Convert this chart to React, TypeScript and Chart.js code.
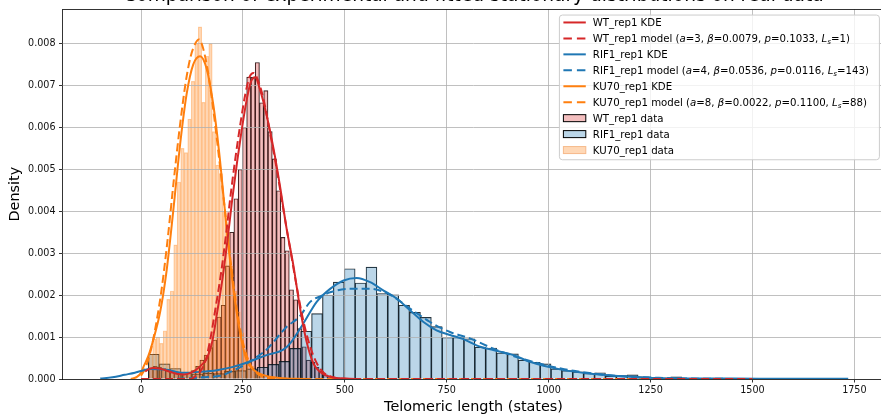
import React, { useEffect, useRef } from 'react';
import { Chart, registerables } from 'chart.js';

Chart.register(...registerables);

// ---------- text ----------
const TITLE = 'Comparison of experimental and fitted stationary distributions on real data';
const X_LABEL = 'Telomeric length (states)';
const Y_LABEL = 'Density';

// ---------- axes ----------
const X_MIN = -192.6;
const X_MAX = 1824;
const Y_MAX = 0.00882;
const X_TICKS = [0, 250, 500, 750, 1000, 1250, 1500, 1750];
const Y_TICKS = [0, 0.001, 0.002, 0.003, 0.004, 0.005, 0.006, 0.007, 0.008];

// ---------- series meta ----------
const SERIES_NAMES = ['WT_rep1', 'RIF1_rep1', 'KU70_rep1'];
const COLORS = ['#d62728', '#1f77b4', '#ff7f0e'];
const HIST_FILL = ['rgba(214,39,40,0.3)', 'rgba(31,119,180,0.3)', 'rgba(255,127,14,0.3)'];
const HIST_EDGE = ['rgba(0,0,0,0.85)', 'rgba(0,0,0,0.85)', 'rgba(255,127,14,0.3)'];
const MODEL_A = ['3', '4', '8'];
const MODEL_BETA = ['0.0079', '0.0536', '0.0022'];
const MODEL_P = ['0.1033', '0.0116', '0.1100'];
const MODEL_LS = ['1', '143', '88'];

// ---------- histograms (density per bin) ----------
const WT_BIN_START = 18.9;
const WT_BIN_WIDTH = 10.45;
const WT_HIST = [
  0.00025, 0.0003, 0.00028, 0.00025, 0.00022, 0.00018, 0.00015, 0.00012, 0.00012, 0.00015,
  0.0002, 0.0003, 0.00045, 0.00057, 0.00075, 0.00093, 0.00148, 0.00176, 0.0027, 0.0035,
  0.0043, 0.005, 0.006, 0.0072, 0.0072, 0.00755, 0.00659, 0.00688, 0.0059, 0.00525,
  0.00449, 0.00338, 0.00306, 0.00213, 0.00189, 0.0012, 0.00077, 0.00045, 0.0004, 0.00028,
  0.00018, 0.0001, 0.00006, 0.00004, 0.00003,
];

const RIF1_BIN_START = 18;
const RIF1_BIN_WIDTH = 26.7;
const RIF1_HIST = [
  0.00059, 0.00036, 0.00025, 0.00016, 0.00012, 0.00014, 0.00013, 0.00018, 0.0002, 0.00024,
  0.00028, 0.00035, 0.00042, 0.00073, 0.00114, 0.00156, 0.002, 0.00231, 0.00263, 0.00229,
  0.00267, 0.00204, 0.00201, 0.00176, 0.00159, 0.00147, 0.00125, 0.00099, 0.00099, 0.00096,
  0.00076, 0.00074, 0.00062, 0.0006, 0.00045, 0.0004, 0.00036, 0.00024, 0.0002, 0.00017,
  0.000135, 0.00015, 0.00007, 0.00008, 0.0001, 0.00005, 0.00004, 0.00003, 0.00005, 0.00001,
  0.00001, 0.000005, 0, 0.000005, 0, 0.000005,
];

const KU70_BIN_START = 20;
const KU70_BIN_WIDTH = 8.6;
const KU70_HIST = [
  0.0006, 0.00095, 0.001, 0.00085, 0.00115, 0.0019, 0.0021, 0.0032, 0.0047, 0.0055,
  0.0054, 0.0062, 0.0071, 0.008, 0.0084, 0.0066, 0.0077, 0.008, 0.0059, 0.0051,
  0.0049, 0.004, 0.0035, 0.0027, 0.0021, 0.0016, 0.0011, 0.0007, 0.00045, 0.0003,
  0.00015, 0.0001, 0.00005,
];

// ---------- KDE curves ----------
const WT_KDE_X = [10, 20, 30, 45, 60, 75, 90, 105, 120, 135, 150, 162, 175, 187, 200, 212, 224, 236, 248, 260, 270, 280, 292, 308, 325, 341, 357, 374, 390, 406, 423, 439, 455, 475, 500, 540];
const WT_KDE_Y = [0.00018, 0.00024, 0.00026, 0.00025, 0.00021, 0.00016, 0.00012, 0.00011, 0.00014, 0.00022, 0.00035, 0.0005, 0.0009, 0.0016, 0.0024, 0.0033, 0.0043, 0.0052, 0.006, 0.0067, 0.0071, 0.0072, 0.0069, 0.0063, 0.0055, 0.0046, 0.0036, 0.0027, 0.0017, 0.0009, 0.00037, 0.00017, 0.00008, 0.00003, 0.00001, 0];

const RIF1_KDE_X = [-100, -70, -40, -15, 0, 22, 63, 104, 145, 186, 226, 267, 308, 349, 366, 398, 431, 464, 497, 529, 562, 595, 627, 660, 693, 725, 758, 791, 832, 864, 914, 954, 1028, 1110, 1192, 1273, 1350, 1450, 1550, 1650, 1735];
const RIF1_KDE_Y = [0.00001, 0.00004, 0.0001, 0.00015, 0.00019, 0.00024, 0.00022, 0.00015, 0.00017, 0.00021, 0.00029, 0.00042, 0.00057, 0.0007, 0.00085, 0.00132, 0.00184, 0.00215, 0.00235, 0.00241, 0.00231, 0.00211, 0.00192, 0.00164, 0.00136, 0.00116, 0.00105, 0.00095, 0.00077, 0.00069, 0.00057, 0.00041, 0.00023, 0.00012, 0.00006, 0.00002, 0.00001, 0.00001, 0.000008, 0.000006, 0.000005];

const KU70_KDE_X = [-25, -10, 0, 6, 18, 30, 47, 63, 79, 96, 112, 128, 145, 161, 178, 194, 210, 226, 243, 259, 276, 292, 312, 345, 400];
const KU70_KDE_Y = [0, 0.00005, 0.00015, 0.00029, 0.00055, 0.00093, 0.0016, 0.0026, 0.004, 0.0056, 0.0068, 0.0075, 0.0077, 0.0074, 0.0065, 0.0052, 0.0036, 0.0022, 0.0011, 0.00045, 0.00022, 0.00012, 0.00006, 0.00002, 0];

// ---------- fitted model curves ----------
const WT_MODEL_X = [0, 120, 135, 150, 160, 171, 183, 196, 208, 220, 232, 244, 256, 266, 276, 288, 300, 316, 333, 350, 366, 382, 398, 414, 430, 446, 465, 490, 530, 1500];
const WT_MODEL_Y = [0, 0, 0.00008, 0.00025, 0.0005, 0.001, 0.0017, 0.0025, 0.0034, 0.0044, 0.0053, 0.0061, 0.0068, 0.0072, 0.0073, 0.0071, 0.0067, 0.0059, 0.005, 0.004, 0.0031, 0.0022, 0.0014, 0.0008, 0.0004, 0.00017, 0.00006, 0.00001, 0, 0];

const RIF1_MODEL_X = [0, 60, 104, 150, 200, 226, 251, 280, 308, 357, 390, 415, 447, 464, 513, 562, 611, 660, 709, 758, 807, 870, 954, 1030, 1110, 1190, 1270, 1350, 1500];
const RIF1_MODEL_Y = [0, 0, 0.00001, 0.00004, 0.00009, 0.0002, 0.00032, 0.0005, 0.0007, 0.00124, 0.0015, 0.00184, 0.002, 0.00207, 0.00215, 0.00215, 0.00201, 0.00168, 0.00136, 0.00112, 0.00097, 0.0007, 0.00043, 0.00025, 0.00013, 0.00006, 0.00003, 0.00001, 0];

const KU70_MODEL_X = [0, 10, 22, 35, 50, 65, 80, 95, 110, 122, 133, 142, 152, 163, 175, 190, 205, 220, 236, 252, 268, 285, 305, 340, 400, 1500];
const KU70_MODEL_Y = [0.00008, 0.00025, 0.0006, 0.0012, 0.0021, 0.0033, 0.0047, 0.006, 0.0071, 0.0077, 0.008, 0.0081, 0.0079, 0.0074, 0.0066, 0.0054, 0.0041, 0.0028, 0.0016, 0.0008, 0.00035, 0.00013, 0.00004, 0.00001, 0, 0];

// ---------- style ----------
const FONT = '"DejaVu Sans", sans-serif';
const GRID_COLOR = '#b0b0b0';

const toPts = (xs: number[], ys: number[]) => xs.map((x, i) => ({ x, y: ys[i] }));
const histPts = (start: number, w: number, hs: number[]) =>
  hs.map((h, i) => ({ x: start + (i + 0.5) * w, y: h }));

type Seg = { t: string; it?: boolean; sub?: boolean };

function modelSegs(i: number): Seg[] {
  return [
    { t: `${SERIES_NAMES[i]} model (` },
    { t: 'a', it: true },
    { t: `=${MODEL_A[i]}, ` },
    { t: 'β', it: true },
    { t: `=${MODEL_BETA[i]}, ` },
    { t: 'p', it: true },
    { t: `=${MODEL_P[i]}, ` },
    { t: 'L', it: true },
    { t: 's', it: true, sub: true },
    { t: `=${MODEL_LS[i]})` },
  ];
}

function drawSegs(ctx: CanvasRenderingContext2D, segs: Seg[], x: number, y: number, size: number) {
  let cx = x;
  for (const s of segs) {
    const fs = s.sub ? size * 0.7 : size;
    ctx.font = `${s.it ? 'italic ' : ''}${fs}px ${FONT}`;
    ctx.fillText(s.t, cx, y + (s.sub ? size * 0.22 : 0));
    cx += ctx.measureText(s.t).width;
  }
}

const alignPx = (p: number) => Math.round(p - 0.5) + 0.5;

const KU70_BAR_INDEX = 8;

const overlayPlugin = {
  id: 'overlay',
  afterDatasetDraw(chart: any, args: any) {
    if (args.index !== KU70_BAR_INDEX) return;
    const { ctx, chartArea: a, scales } = chart;
    ctx.save();
    ctx.beginPath();
    ctx.rect(a.left, a.top, a.right - a.left, a.bottom - a.top);
    ctx.clip();
    ctx.strokeStyle = GRID_COLOR;
    ctx.lineWidth = 0.8;
    ctx.beginPath();
    for (const v of X_TICKS) {
      const px = alignPx(scales.x.getPixelForValue(v));
      ctx.moveTo(px, a.top);
      ctx.lineTo(px, a.bottom);
    }
    for (const v of Y_TICKS) {
      const py = alignPx(scales.y.getPixelForValue(v));
      ctx.moveTo(a.left, py);
      ctx.lineTo(a.right, py);
    }
    ctx.stroke();
    ctx.restore();
  },
  afterDraw(chart: any) {
    const { ctx, chartArea: a } = chart;
    ctx.save();
    ctx.strokeStyle = '#000';
    ctx.lineWidth = 0.8;
    ctx.beginPath();
    ctx.moveTo(a.left, alignPx(a.top));
    ctx.lineTo(a.right, alignPx(a.top));
    ctx.moveTo(alignPx(a.right), a.top);
    ctx.lineTo(alignPx(a.right), a.bottom);
    ctx.stroke();

    const cx = (a.left + a.right) / 2;
    ctx.fillStyle = '#000';
    ctx.textAlign = 'center';
    ctx.textBaseline = 'alphabetic';
    ctx.font = `18.6px ${FONT}`;
    ctx.fillText(TITLE, cx, a.top - 8);

    ctx.font = `14.4px ${FONT}`;
    ctx.fillText(X_LABEL, cx, a.bottom + 31.5);
    ctx.save();
    ctx.translate(a.left - 43.5, (a.top + a.bottom) / 2);
    ctx.rotate(-Math.PI / 2);
    ctx.fillText(Y_LABEL, 0, 0);
    ctx.restore();

    const lw = 320;
    const lh = 144.7;
    const lx = a.right - 5.1 - lw;
    const ly = a.top + 5.8;
    ctx.beginPath();
    const r = 3;
    ctx.moveTo(lx + r, ly);
    ctx.lineTo(lx + lw - r, ly);
    ctx.quadraticCurveTo(lx + lw, ly, lx + lw, ly + r);
    ctx.lineTo(lx + lw, ly + lh - r);
    ctx.quadraticCurveTo(lx + lw, ly + lh, lx + lw - r, ly + lh);
    ctx.lineTo(lx + r, ly + lh);
    ctx.quadraticCurveTo(lx, ly + lh, lx, ly + lh - r);
    ctx.lineTo(lx, ly + r);
    ctx.quadraticCurveTo(lx, ly, lx + r, ly);
    ctx.closePath();
    ctx.fillStyle = 'rgba(255,255,255,0.8)';
    ctx.fill();
    ctx.strokeStyle = '#cccccc';
    ctx.lineWidth = 1;
    ctx.stroke();

    const items: { kind: string; i: number; dash?: boolean; segs: Seg[] }[] = [];
    for (let i = 0; i < 3; i++) {
      items.push({ kind: 'line', i, dash: false, segs: [{ t: `${SERIES_NAMES[i]} KDE` }] });
      items.push({ kind: 'line', i, dash: true, segs: modelSegs(i) });
    }
    for (let i = 0; i < 3; i++) {
      items.push({ kind: 'patch', i, segs: [{ t: `${SERIES_NAMES[i]} data` }] });
    }
    const hx0 = lx + 4;
    const hx1 = lx + 26.4;
    ctx.textAlign = 'left';
    items.forEach((it, k) => {
      const yc = ly + 7.4 + k * 15.95;
      if (it.kind === 'line') {
        ctx.save();
        ctx.strokeStyle = COLORS[it.i];
        ctx.lineWidth = 2;
        ctx.setLineDash(it.dash ? [8.5, 5] : []);
        ctx.beginPath();
        ctx.moveTo(hx0, yc);
        ctx.lineTo(hx1, yc);
        ctx.stroke();
        ctx.restore();
      } else {
        ctx.fillStyle = HIST_FILL[it.i];
        ctx.fillRect(hx0, yc - 3.5, hx1 - hx0, 7);
        ctx.strokeStyle = it.i === 2 ? 'rgba(245,180,130,0.9)' : '#000';
        ctx.lineWidth = 1;
        ctx.strokeRect(hx0, yc - 3.5, hx1 - hx0, 7);
      }
      ctx.fillStyle = '#000';
      drawSegs(ctx, it.segs, lx + 33.4, yc + 3.6, 10.2);
    });
    ctx.restore();
  },
};

export default function App() {
  const ref = useRef<HTMLCanvasElement>(null);

  useEffect(() => {
    const canvas = ref.current;
    if (!canvas) return;

    const lineDs = (xs: number[], ys: number[], i: number, dashed: boolean) => ({
      type: 'line' as const,
      data: toPts(xs, ys),
      xAxisID: 'x',
      yAxisID: 'y',
      borderColor: COLORS[i],
      backgroundColor: COLORS[i],
      borderWidth: 2,
      borderDash: dashed ? [8, 4] : [],
      pointRadius: 0,
      fill: false,
      cubicInterpolationMode: 'monotone' as const,
      order: 0,
    });

    const barDs = (start: number, w: number, hs: number[], i: number, axis: string, order: number) => ({
      type: 'bar' as const,
      data: histPts(start, w, hs),
      xAxisID: axis,
      yAxisID: 'y',
      backgroundColor: HIST_FILL[i],
      borderColor: HIST_EDGE[i],
      borderWidth: 0.5,
      barPercentage: 1,
      categoryPercentage: 1,
      grouped: false,
      order,
    });

    const datasets: any[] = [
      lineDs(WT_KDE_X, WT_KDE_Y, 0, false),
      lineDs(WT_MODEL_X, WT_MODEL_Y, 0, true),
      lineDs(RIF1_KDE_X, RIF1_KDE_Y, 1, false),
      lineDs(RIF1_MODEL_X, RIF1_MODEL_Y, 1, true),
      lineDs(KU70_KDE_X, KU70_KDE_Y, 2, false),
      lineDs(KU70_MODEL_X, KU70_MODEL_Y, 2, true),
      barDs(WT_BIN_START, WT_BIN_WIDTH, WT_HIST, 0, 'xWT', 3),
      barDs(RIF1_BIN_START, RIF1_BIN_WIDTH, RIF1_HIST, 1, 'xRIF1', 2),
      barDs(KU70_BIN_START, KU70_BIN_WIDTH, KU70_HIST, 2, 'xKU70', 1),
    ];

    const hiddenX = () => ({
      type: 'linear' as const,
      axis: 'x' as const,
      position: 'bottom' as const,
      min: X_MIN,
      max: X_MAX,
      offset: false,
      grid: { offset: false },
      display: false,
    });

    const tickFont = { family: 'DejaVu Sans', size: 9.6 };

    const chart = new Chart(canvas, {
      type: 'line',
      data: { datasets },
      plugins: [overlayPlugin],
      options: {
        responsive: false,
        animation: false,
        devicePixelRatio: 1,
        layout: { padding: { left: 0, right: 5.5, top: 7.5, bottom: 0 } },
        plugins: { legend: { display: false }, tooltip: { enabled: false }, title: { display: false } },
        scales: {
          x: {
            type: 'linear',
            position: 'bottom',
            min: X_MIN,
            max: X_MAX,
            offset: false,
            afterBuildTicks: (s: any) => {
              s.ticks = X_TICKS.map((v) => ({ value: v }));
            },
            afterFit: (s: any) => {
              s.height = 35;
            },
            ticks: {
              autoSkip: false,
              maxRotation: 0,
              font: tickFont,
              color: '#111',
              padding: 2.5,
              callback: (v: any) => String(v),
            },
            grid: {
              offset: false,
              color: 'rgba(0,0,0,0)',
              tickColor: '#000',
              tickLength: 3.5,
              lineWidth: 0.8,
            },
            border: { display: true, color: '#000', width: 0.8 },
          },
          xWT: hiddenX(),
          xRIF1: hiddenX(),
          xKU70: hiddenX(),
          y: {
            type: 'linear',
            position: 'left',
            min: 0,
            max: Y_MAX,
            afterBuildTicks: (s: any) => {
              s.ticks = Y_TICKS.map((v) => ({ value: v }));
            },
            afterFit: (s: any) => {
              s.width = 62.5;
            },
            ticks: {
              autoSkip: false,
              font: tickFont,
              color: '#111',
              padding: 3.5,
              callback: (v: any) => Number(v).toFixed(3),
            },
            grid: {
              color: 'rgba(0,0,0,0)',
              tickColor: '#000',
              tickLength: 3.5,
              lineWidth: 0.8,
            },
            border: { display: true, color: '#000', width: 0.8 },
          },
        },
      } as any,
    });

    return () => chart.destroy();
  }, []);

  return (
    <div
      style={{
        position: 'fixed',
        left: 0,
        top: 0,
        width: 881,
        height: 414,
        overflow: 'hidden',
        background: '#fff',
      }}
    >
      <canvas ref={ref} width={890} height={414} style={{ display: 'block', width: 890, height: 414 }} />
    </div>
  );
}
